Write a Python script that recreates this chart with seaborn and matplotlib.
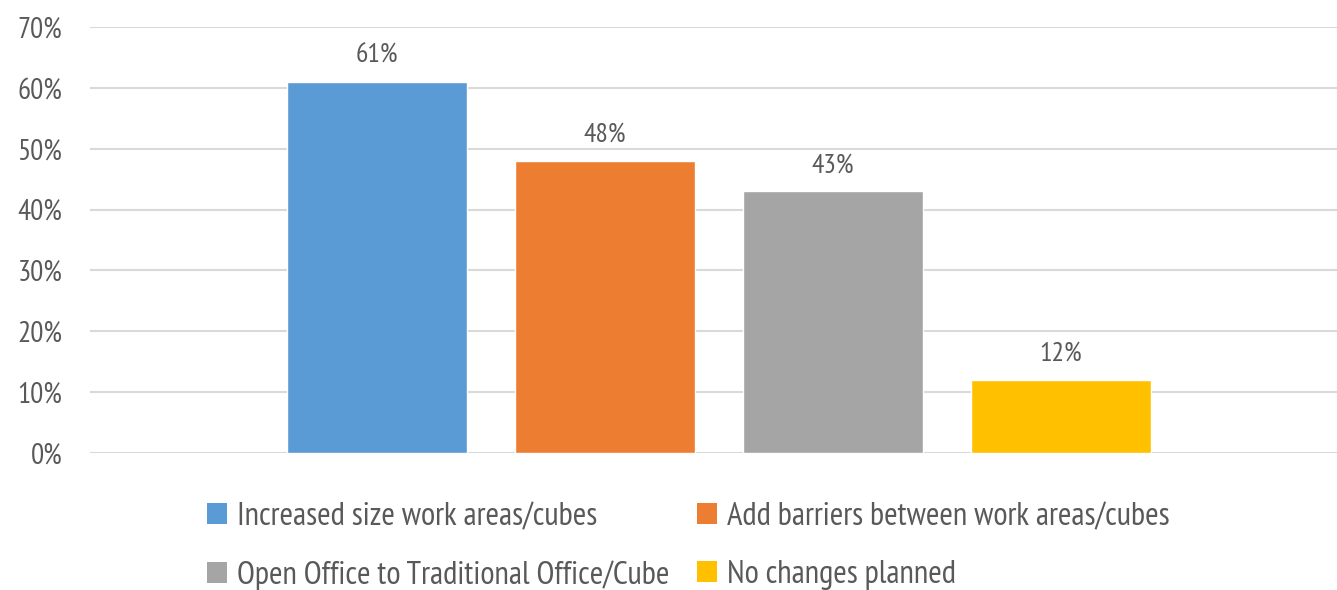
import matplotlib
matplotlib.use("Agg")
import matplotlib.pyplot as plt
import seaborn as sns
import pandas as pd
from matplotlib.patches import Patch

series = ["Increased size work areas/cubes", "Add barriers between work areas/cubes",
          "Open Office to Traditional Office/Cube", "No changes planned"]
values = [61, 48, 43, 12]
colors = ["#5B9BD5", "#ED7D31", "#A5A5A5", "#FFC000"]
ytick_vals = [0, 10, 20, 30, 40, 50, 60, 70]

sns.set_theme(style="white")
plt.rcParams['font.family'] = ['PT Sans Narrow', 'DejaVu Sans']
txt = "#595959"

df = pd.DataFrame({"cat": ["all"] * 4, "series": series, "value": values})

fig = plt.figure(figsize=(13.37, 5.9), dpi=100)
ax = fig.add_axes([90 / 1337, 137 / 590, 1247 / 1337, 426 / 590])
sns.barplot(data=df, x="cat", y="value", hue="series", hue_order=series,
            palette=colors, width=0.8, gap=0.21, saturation=1, ax=ax, legend=False)

ax.set_xlim(-0.5518, 0.542)
ax.set_ylim(0, 70)
ax.set_yticks(ytick_vals)
ax.set_yticklabels([f"{v}%" for v in ytick_vals], fontsize=21, color=txt)
ax.set_xticks([])
ax.set_xlabel("")
ax.set_ylabel("")
ax.tick_params(axis="y", length=0, pad=20)
ax.yaxis.grid(True, color="#D9D9D9", linewidth=1.5)
ax.set_axisbelow(True)
for s in ax.spines.values():
    s.set_visible(False)

for c in ax.containers:
    ax.bar_label(c, fmt="%d%%", padding=10, fontsize=20, color=txt)

order = [0, 2, 1, 3]
handles = [Patch(facecolor=colors[i], edgecolor="none") for i in order]
labels = [series[i] for i in order]
leg = fig.legend(handles, labels, ncol=2, loc="upper left",
                 bbox_to_anchor=(207 / 1337, 1 - 502 / 590), frameon=False,
                 borderaxespad=0, borderpad=0,
                 fontsize=23.5, labelcolor=txt, handlelength=0.62, handleheight=0.62,
                 handletextpad=0.3, columnspacing=0.85, labelspacing=0.87)

fig.savefig("out.png", dpi=100, facecolor="white")
